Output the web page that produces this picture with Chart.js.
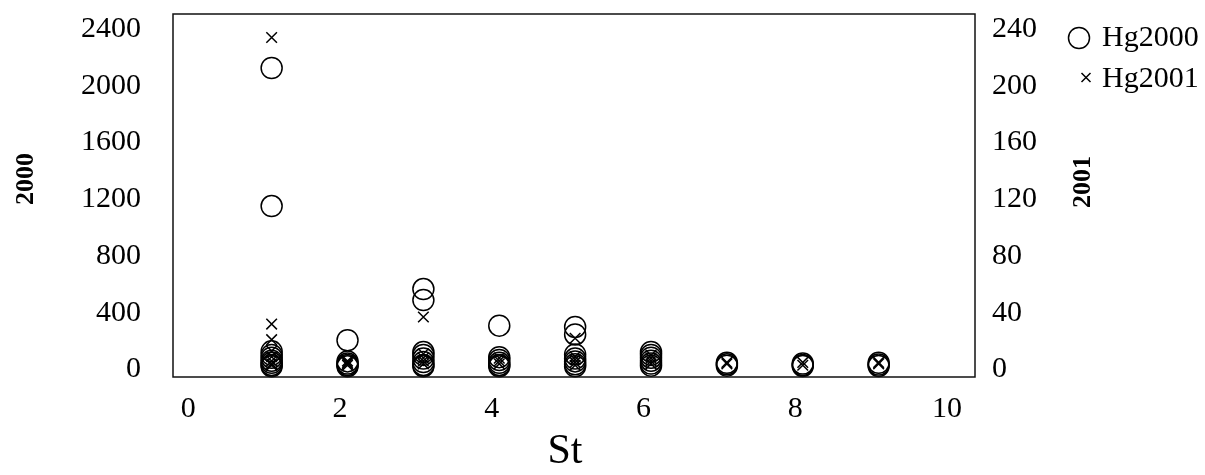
<!DOCTYPE html>
<html>
<head>
<meta charset="utf-8">
<script src="https://cdn.jsdelivr.net/npm/chart.js@4.4.1/dist/chart.umd.min.js"></script>
<style>
  html, body { margin: 0; padding: 0; background: #ffffff; }
  #wrap { width: 1205px; height: 475px; }
</style>
</head>
<body>
<div id="wrap"><canvas id="c" width="1205" height="475"></canvas></div>
<script>
// Station positions (x)
const stations = [1.1, 2.1, 3.1, 4.1, 5.1, 6.1, 7.1, 8.1, 9.1];
// Hg2000 values per station (left axis)
const hg2000ByStation = [
  [2125, 1152, 128, 103, 83, 62, 47, 32, 22],
  [206, 57, 42, 32, 22],
  [567, 489, 123, 103, 77, 52, 32, 22],
  [309, 87, 67, 47, 32, 22],
  [300, 247, 106, 77, 57, 37, 22],
  [124, 103, 83, 62, 42, 27],
  [47, 37, 27],
  [42, 32, 25],
  [47, 35, 25]
];
// Hg2001 values per station (right axis)
const hg2001ByStation = [
  [234, 32, 21, 13, 9, 6, 4, 3],
  [6, 5, 4, 3],
  [37, 11, 8, 6, 4],
  [8, 6, 4],
  [22, 9, 7, 5, 3],
  [10, 8, 6, 4],
  [5, 4],
  [5, 3],
  [5, 4]
];
const leftTicks = [0, 400, 800, 1200, 1600, 2000, 2400];
const rightTicks = [0, 40, 80, 120, 160, 200, 240];
const xTicks = [0, 2, 4, 6, 8, 10];
const seriesNames = ['Hg2000', 'Hg2001'];
const leftTitle = '2000';
const rightTitle = '2001';
const xTitle = 'St';

function toPoints(byStation) {
  const pts = [];
  byStation.forEach((vals, i) => vals.forEach(v => pts.push({ x: stations[i], y: v })));
  return pts;
}

const FONT = '"Liberation Serif", "Times New Roman", serif';

const decor = {
  id: 'decor',
  afterDraw(chart) {
    const ctx = chart.ctx;
    const a = chart.chartArea;
    ctx.save();
    ctx.strokeStyle = '#111';
    ctx.lineWidth = 1.5;
    ctx.strokeRect(a.left, a.top, a.right - a.left, a.bottom - a.top);

    ctx.fillStyle = '#000';
    ctx.textAlign = 'center';
    ctx.textBaseline = 'middle';
    ctx.font = 'bold 26px ' + FONT;
    ctx.save();
    ctx.translate(26, 179);
    ctx.rotate(-Math.PI / 2);
    ctx.fillText(leftTitle, 0, 0);
    ctx.restore();
    ctx.save();
    ctx.translate(1083, 182);
    ctx.rotate(-Math.PI / 2);
    ctx.fillText(rightTitle, 0, 0);
    ctx.restore();

    ctx.font = '42px ' + FONT;
    ctx.textBaseline = 'alphabetic';
    ctx.fillText(xTitle, 565, 463);

    // legend
    ctx.textBaseline = 'middle';
    ctx.strokeStyle = '#000';
    ctx.lineWidth = 1.5;
    ctx.beginPath();
    ctx.arc(1079, 38, 10.5, 0, Math.PI * 2);
    ctx.stroke();
    ctx.beginPath();
    ctx.moveTo(1081.5, 73); ctx.lineTo(1090.5, 82);
    ctx.moveTo(1090.5, 73); ctx.lineTo(1081.5, 82);
    ctx.stroke();
    ctx.font = '30px ' + FONT;
    ctx.textAlign = 'left';
    ctx.fillText(seriesNames[0], 1102, 38);
    ctx.fillText(seriesNames[1], 1102, 79);
    ctx.restore();
  }
};

const tickFont = { family: FONT, size: 30 };
const plain = v => String(v);

new Chart(document.getElementById('c'), {
  type: 'scatter',
  data: {
    datasets: [
      {
        label: seriesNames[0],
        data: toPoints(hg2000ByStation),
        yAxisID: 'y',
        pointStyle: 'circle',
        pointRadius: 10.5,
        pointBorderWidth: 1.5,
        borderColor: '#000',
        backgroundColor: 'rgba(0,0,0,0)',
        clip: false
      },
      {
        label: seriesNames[1],
        data: toPoints(hg2001ByStation),
        yAxisID: 'y2',
        pointStyle: 'crossRot',
        pointRadius: 7.5,
        pointBorderWidth: 1.5,
        borderColor: '#000',
        backgroundColor: '#000',
        clip: false
      }
    ]
  },
  options: {
    responsive: false,
    animation: false,
    devicePixelRatio: 1,
    events: [],
    layout: { padding: { top: 14, left: 0, right: 0, bottom: 0 } },
    plugins: { legend: { display: false }, tooltip: { enabled: false } },
    scales: {
      x: {
        type: 'linear',
        position: 'bottom',
        min: -0.2,
        max: 10.37,
        grid: { display: false, drawTicks: false },
        border: { display: false },
        afterBuildTicks: s => { s.ticks = xTicks.map(v => ({ value: v })); },
        afterFit: s => { s.height = 98; s.paddingLeft = 0; s.paddingRight = 0; },
        ticks: { font: tickFont, color: '#000', padding: 14, maxRotation: 0, callback: plain }
      },
      y: {
        type: 'linear',
        position: 'left',
        min: -52.9,
        max: 2505.7,
        grid: { display: false, drawTicks: false },
        border: { display: false },
        afterBuildTicks: s => { s.ticks = leftTicks.map(v => ({ value: v })); },
        afterFit: s => { s.width = 173; s.paddingTop = 0; s.paddingBottom = 0; },
        ticks: { font: tickFont, color: '#000', padding: 32, callback: plain }
      },
      y2: {
        type: 'linear',
        position: 'right',
        min: -5.29,
        max: 250.57,
        grid: { display: false, drawTicks: false },
        border: { display: false },
        afterBuildTicks: s => { s.ticks = rightTicks.map(v => ({ value: v })); },
        afterFit: s => { s.width = 230; s.paddingTop = 0; s.paddingBottom = 0; },
        ticks: { font: tickFont, color: '#000', padding: 17, callback: plain }
      }
    }
  },
  plugins: [decor]
});
</script>
</body>
</html>
